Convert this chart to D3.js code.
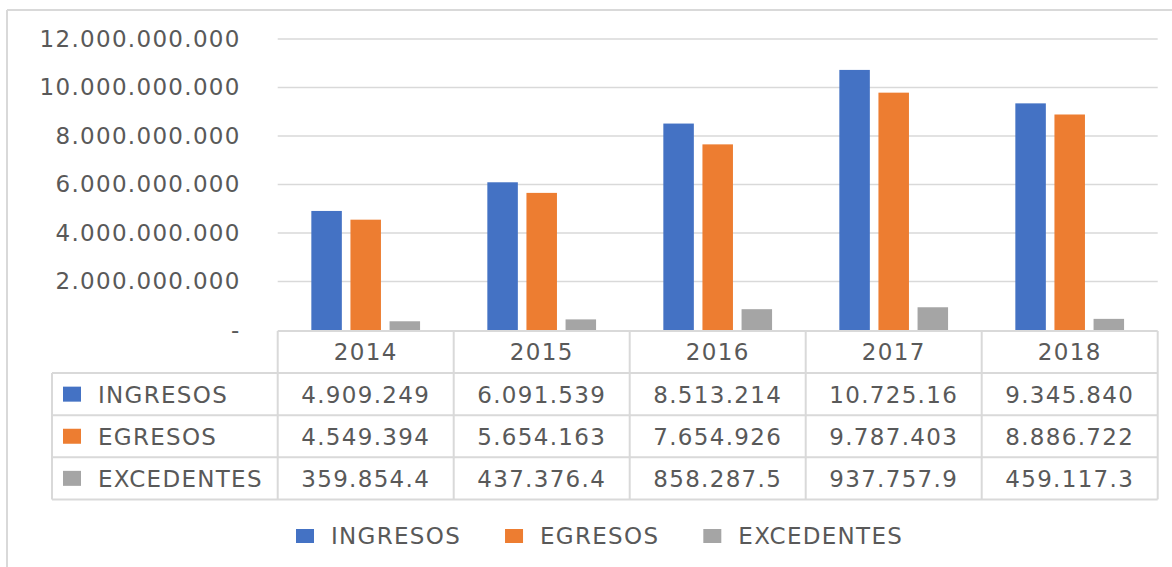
<!DOCTYPE html>
<html lang="es">
<head>
  <meta charset="UTF-8">
  <title>Ingresos, egresos y excedentes</title>
  <script src="https://d3js.org/d3.v7.min.js"></script>
  <style>
    body { margin: 0; background: #fff; }
    svg text {
      font-family: "DejaVu Sans", sans-serif;
      font-size: 23px;
      letter-spacing: 1.3px;
      fill: #595959;
    }
    .grid line { stroke: #d9d9d9; stroke-width: 1.6px; }
    .tbl line { stroke: #d9d9d9; stroke-width: 2px; }
  </style>
</head>
<body>
  <svg width="1172" height="567"></svg>
  <script>
    // data
    const years = ["2014", "2015", "2016", "2017", "2018"];
    const seriesNames = ["INGRESOS", "EGRESOS", "EXCEDENTES"];
    const ingresos   = [4909249000, 6091539000, 8513214000, 10725161300, 9345840000];
    const egresos    = [4549394000, 5654163000, 7654926000, 9787403000, 8886722000];
    const excedentes = [359854400, 437376400, 858287500, 937757900, 459117300];
    const colors = ["#4472C4", "#ED7D31", "#A5A5A5"];
    const yTicks = [0, 2e9, 4e9, 6e9, 8e9, 10e9, 12e9];

    const seriesValues = [ingresos, egresos, excedentes];

    const loc = d3.formatLocale({decimal: ",", thousands: ".", grouping: [3], currency: ["", ""]});
    const fmt = loc.format(",");
    // cells in the data table only show the first 9 characters
    const cellText = v => fmt(v).slice(0, 9);

    const svg = d3.select("svg");

    // chart area frame (only top and left edges visible)
    svg.append("line").attr("x1", 7).attr("x2", 1180).attr("y1", 10).attr("y2", 10)
      .attr("stroke", "#d9d9d9").attr("stroke-width", 2);
    svg.append("line").attr("x1", 7).attr("x2", 7).attr("y1", 10).attr("y2", 580)
      .attr("stroke", "#d9d9d9").attr("stroke-width", 2);

    const plotLeft = 277.7, plotRight = 1157.7;
    const x = d3.scaleBand().domain(years).range([plotLeft, plotRight]);
    const xs = d3.scaleBand().domain(seriesNames).range([0, x.bandwidth()])
      .paddingInner(0.22).paddingOuter(0.86);
    const y = d3.scaleLinear().domain([0, 12e9]).range([330, 39]);

    // gridlines
    svg.append("g").attr("class", "grid")
      .selectAll("line")
      .data(yTicks.filter(d => d > 0))
      .join("line")
        .attr("x1", plotLeft).attr("x2", plotRight)
        .attr("y1", d => y(d)).attr("y2", d => y(d));

    // y axis labels
    const yAxis = d3.axisLeft(y)
      .tickValues(yTicks)
      .tickSize(0)
      .tickPadding(37)
      .tickFormat(d => d === 0 ? "-" : fmt(d));
    const ax = svg.append("g").attr("transform", `translate(${plotLeft},0)`).call(yAxis);
    ax.select(".domain").remove();
    ax.selectAll("text").attr("font-size", null).attr("font-family", null).attr("fill", null);

    // bars
    const groups = svg.append("g")
      .selectAll("g")
      .data(years)
      .join("g")
        .attr("transform", d => `translate(${x(d)},0)`);

    groups.selectAll("rect")
      .data((yr, i) => seriesNames.map((s, k) => ({s, k, v: seriesValues[k][i]})))
      .join("rect")
        .attr("x", d => xs(d.s))
        .attr("width", xs.bandwidth())
        .attr("y", d => y(d.v))
        .attr("height", d => y(0) - y(d.v))
        .attr("fill", d => colors[d.k]);

    // data table
    const tableLeft = 52, tableTop = 331, rowH = 42.1;
    const rowY = i => tableTop + rowH * i;
    const tbl = svg.append("g").attr("class", "tbl");

    tbl.append("line").attr("x1", plotLeft).attr("x2", plotRight)
      .attr("y1", rowY(0)).attr("y2", rowY(0));
    tbl.selectAll("line.h")
      .data(d3.range(1, 5))
      .join("line").attr("class", "h")
        .attr("x1", tableLeft).attr("x2", plotRight)
        .attr("y1", d => rowY(d)).attr("y2", d => rowY(d));
    tbl.append("line").attr("x1", tableLeft).attr("x2", tableLeft)
      .attr("y1", rowY(1)).attr("y2", rowY(4));
    tbl.selectAll("line.v")
      .data(years.concat(["end"]))
      .join("line").attr("class", "v")
        .attr("x1", d => d === "end" ? plotRight : x(d))
        .attr("x2", d => d === "end" ? plotRight : x(d))
        .attr("y1", rowY(0)).attr("y2", rowY(4));

    // year header
    svg.append("g").selectAll("text")
      .data(years)
      .join("text")
        .attr("x", d => x(d) + x.bandwidth() / 2)
        .attr("y", rowY(0) + rowH / 2 + 8.4)
        .attr("text-anchor", "middle")
        .text(d => d);

    // rows
    seriesNames.forEach((s, k) => {
      const cy = rowY(k + 1) + rowH / 2;
      svg.append("rect").attr("x", 63).attr("y", cy - 7.5)
        .attr("width", 18).attr("height", 15).attr("fill", colors[k]);
      svg.append("text").attr("x", 98).attr("y", cy + 8.4).text(s);
      svg.append("g").selectAll("text")
        .data(seriesValues[k])
        .join("text")
          .attr("x", (d, i) => x(years[i]) + x.bandwidth() / 2)
          .attr("y", cy + 8.4)
          .attr("text-anchor", "middle")
          .text(d => cellText(d));
    });

    // legend
    const legend = svg.append("g").attr("transform", "translate(296,536)");
    let lx = 0;
    seriesNames.forEach((s, k) => {
      const item = legend.append("g").attr("transform", `translate(${lx},0)`);
      item.append("rect").attr("x", 0).attr("y", -7).attr("width", 18).attr("height", 14)
        .attr("fill", colors[k]);
      const t = item.append("text").attr("x", 35).attr("y", 8.4).text(s);
      lx += 35 + t.node().getComputedTextLength() + 44;
    });
  </script>
</body>
</html>
